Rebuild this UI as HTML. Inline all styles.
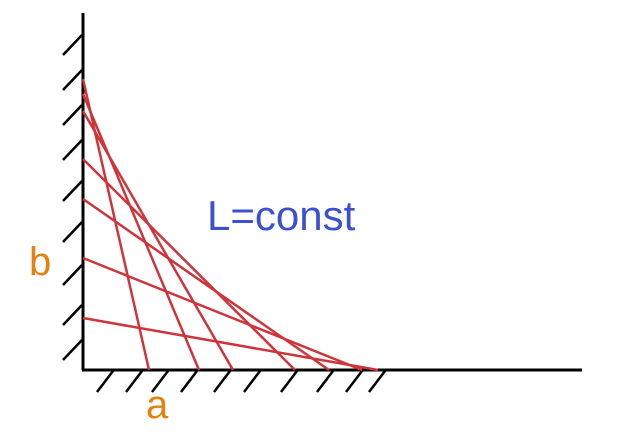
<!DOCTYPE html>
<html><head><meta charset="utf-8"><style>html,body{margin:0;padding:0;background:#fff}</style></head>
<body>
<svg width="637" height="430" viewBox="0 0 637 430" xmlns="http://www.w3.org/2000/svg" font-family="Liberation Sans, sans-serif">
<g id="hatches" stroke="#000" stroke-width="2.5"></g>
<line x1="83" y1="13" x2="83" y2="370" stroke="#000" stroke-width="3"/>
<line x1="82" y1="370" x2="582" y2="370" stroke="#000" stroke-width="3"/>
<g id="ladders" stroke="#d0343a" stroke-width="2.5"></g>
<text x="29" y="275" font-size="40" fill="#e6800f">b</text>
<text x="146" y="418" font-size="40" fill="#e6800f">a</text>
<text x="207" y="230" font-size="42" fill="#3c50d2">L=const</text>
</svg>
<script>
const ladderA = [66, 116, 150, 212, 246, 279, 295];
const ladderB = [291, 276, 259, 211, 171, 112, 52];
const wallHatchY = [35, 70, 105, 140, 181, 222, 265, 305, 340];
const floorHatchX = [113, 142, 168, 197, 230, 260, 297, 333, 362, 385];
const ox = 83, oy = 370;
const NS = 'http://www.w3.org/2000/svg';
const lg = document.getElementById('ladders');
ladderA.forEach((a, i) => {
  const l = document.createElementNS(NS, 'line');
  l.setAttribute('x1', ox); l.setAttribute('y1', oy - ladderB[i]);
  l.setAttribute('x2', ox + a); l.setAttribute('y2', oy);
  
  
  lg.appendChild(l);
});
const hg = document.getElementById('hatches');
wallHatchY.forEach(y => {
  const l = document.createElementNS(NS, 'line');
  l.setAttribute('x1', 82); l.setAttribute('y1', y);
  l.setAttribute('x2', 63); l.setAttribute('y2', y + 20);
  
  
  hg.appendChild(l);
});
floorHatchX.forEach(x => {
  const l = document.createElementNS(NS, 'line');
  l.setAttribute('x1', x); l.setAttribute('y1', 371);
  l.setAttribute('x2', x - 16); l.setAttribute('y2', 392);
  
  
  hg.appendChild(l);
});
</script>
</body></html>
